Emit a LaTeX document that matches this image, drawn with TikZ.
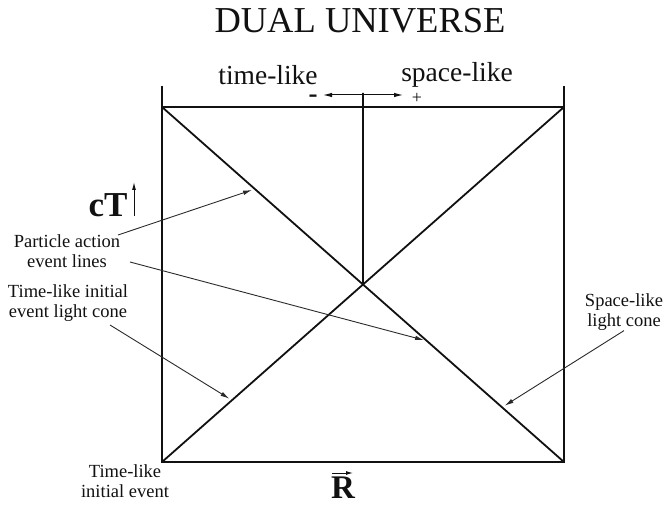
\documentclass[tikz,border=0pt]{standalone}
\usepackage{fontspec}
\setmainfont{Liberation Serif}
\usetikzlibrary{arrows.meta}
\definecolor{DualInk}{HTML}{111111}
\definecolor{DualPointer}{HTML}{2A2A2A}

\begin{document}
\begin{tikzpicture}[x=1pt,y=-1pt,
    frame/.style={DualInk, line width=1.8pt},
    pointer/.style={DualPointer, line width=0.9pt, -{Latex[length=9pt,width=4.5pt]}, shorten >=3pt},
    note/.style={inner sep=0pt, align=center, text=DualInk, font=\fontsize{18.5pt}{20pt}\selectfont},
    side/.style={inner sep=0pt, text=DualInk, font=\fontsize{27.5pt}{30pt}\selectfont}]
  \useasboundingbox (0,0) rectangle (667,508);
  % corners of the universe box
  \coordinate (tl) at (162,107);
  \coordinate (tr) at (564,107);
  \coordinate (bl) at (162,462);
  \coordinate (br) at (564,462);
  \draw[frame] (162,86) -- (bl) -- (br) -- (564,86);
  \draw[frame] (tl) -- (tr);
  \draw[frame] (tl) -- (br);
  \draw[frame] (bl) -- (tr);
  \coordinate (mid) at (intersection of tl--br and bl--tr);
  \coordinate (midtop) at (363,93);
  \draw[frame] (mid) -- (midtop);
  % points hit by the pointers
  \path (tl) -- (br) coordinate[pos=0.231] (hitA) coordinate[pos=0.659] (hitB) coordinate[pos=0.846] (hitS);
  \path (bl) -- (tr) coordinate[pos=0.174] (hitT);
  % headings
  \node[inner sep=0pt, text=DualInk, font=\fontsize{36.5pt}{40pt}\selectfont] (title) at (360,21) {DUAL UNIVERSE};
  \node[side] (timelike) at (268,75) {time-like};
  \node[side] (spacelike) at (457,75) {space-like};
  \coordinate (dirL) at (323,95);
  \coordinate (dirR) at (403,95);
  \draw[DualInk, line width=1pt, {Latex[length=9pt,width=4.5pt]}-{Latex[length=9pt,width=4.5pt]}] (dirL) -- (dirR);
  \node[inner sep=0pt, text height=3pt, text depth=0pt, text=DualInk, font=\bfseries\fontsize{27pt}{28pt}\selectfont] (minus) at (313,101) {-};
  \node[inner sep=0pt, text=DualInk, font=\fontsize{18pt}{20pt}\selectfont] (plus) at (417,98) {+};
  % axes
  \node[inner sep=0pt, text=DualInk, font=\bfseries\fontsize{35pt}{38pt}\selectfont] (ct) at (108,205) {cT};
  \coordinate (ctfoot) at (134,216);
  \coordinate (cthead) at (134,182);
  \draw[DualInk, line width=1pt, -{Latex[length=8pt,width=4pt]}] (ctfoot) -- (cthead);
  \node[inner sep=0pt, text=DualInk, font=\bfseries\fontsize{33pt}{36pt}\selectfont] (rvec) at (343,488) {R};
  \coordinate (rfoot) at (332,473);
  \coordinate (rhead) at (353,473);
  \draw[DualInk, line width=1pt, -{Latex[length=7pt,width=4pt]}] (rfoot) -- (rhead);
  % labels and pointers
  \node[note] (part) at (67,251) {Particle action\\event lines};
  \node[note] (tlcone) at (68,303) {Time-like initial\\event light cone};
  \node[note] (slcone) at (624,312) {Space-like\\light cone};
  \node[note] (tevent) at (125,481) {Time-like\\initial event};
  \coordinate (partA) at (118,235);
  \coordinate (partB) at (130,262);
  \coordinate (tlfoot) at (110,325);
  \draw[pointer] (partA) -- (hitA);
  \draw[pointer] (partB) -- (hitB);
  \draw[pointer] (tlfoot) -- (hitT);
  \draw[pointer] (slcone.south) -- (hitS);
\end{tikzpicture}
\end{document}
